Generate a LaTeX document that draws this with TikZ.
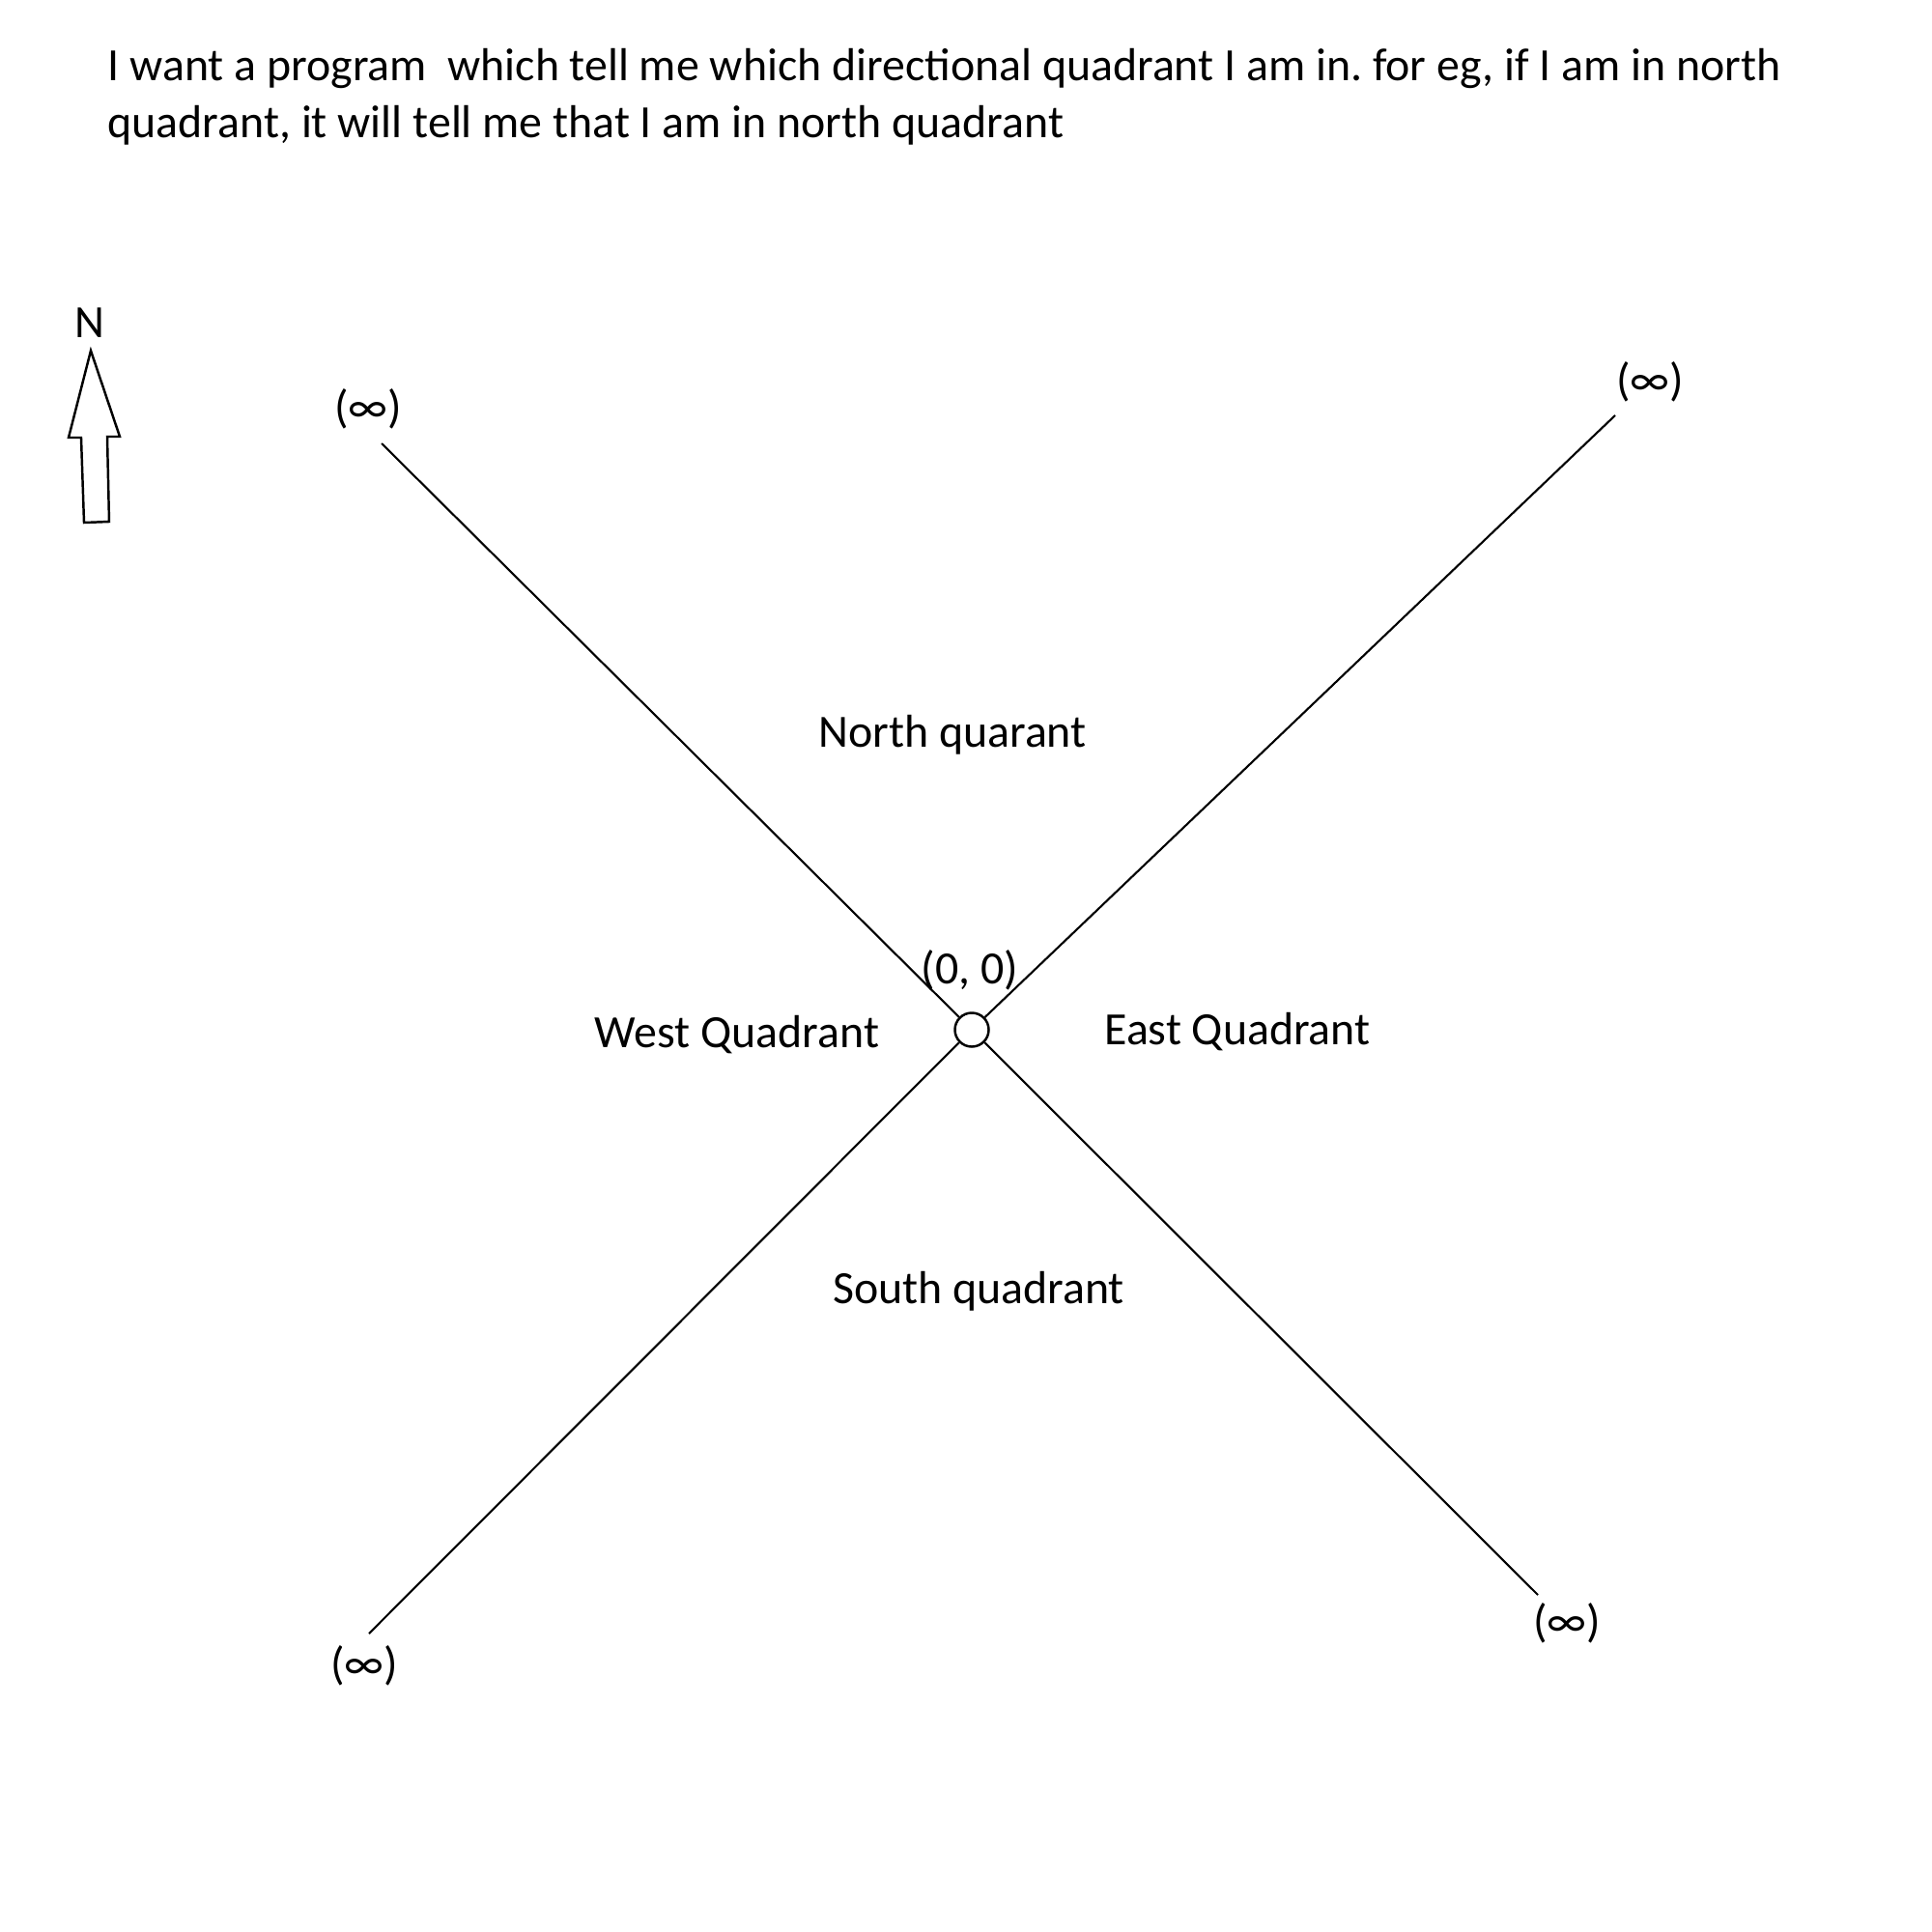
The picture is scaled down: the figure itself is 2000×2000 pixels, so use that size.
\documentclass[tikz,border=0pt]{standalone}
\usepackage{fontspec}
\setmainfont{Carlito}
\usetikzlibrary{positioning}
\frenchspacing

\begin{document}
\begin{tikzpicture}[
  x=0.01cm, y=-0.01cm,
  font=\fontsize{13.6}{17}\selectfont,
  lbl/.style={inner sep=0pt},
  infl/.style={lbl},
  origin/.style={draw, circle, minimum size=0.35cm, inner sep=0pt, line width=0.7pt},
  ray/.style={line width=0.6pt}
]
\useasboundingbox (0,0) rectangle (2000,2000);

\node[lbl, anchor=base west, align=left] (title) at (111,143) {
  I want a program\ \ which tell me which directional quadrant I am in. for eg, if I am in north\\
  quadrant, it will tell me that I am in north quadrant
};

% compass
\node[lbl] (north) at (93,334) {N};
\draw[line width=0.7pt, fill=white]
  (94,363) -- (124,452) -- (111,452) -- (113,540) -- (87,541)
  -- (84,453) -- (71,453) -- cycle;

% origin and rays
\node[origin] (o) at (1006,1066) {};
\node[lbl] (zero) at (1004,1004) {(0, 0)};

\coordinate (nw) at (395,459);
\coordinate (ne) at (1672,430);
\coordinate (sw) at (382,1691);
\coordinate (se) at (1592,1651);

\draw[ray] (o) -- (nw);
\draw[ray] (o) -- (ne);
\draw[ray] (o) -- (sw);
\draw[ray] (o) -- (se);

\node[infl] (infnw) at (381,423) {(∞)};
\node[infl] (infne) at (1708,395) {(∞)};
\node[infl] (infsw) at (377,1724) {(∞)};
\node[infl] (infse) at (1622,1680) {(∞)};

% quadrant names
\node[lbl] (nq) at (986,761) {North quarant};
\node[lbl] (wq) at (763,1071) {West Quadrant};
\node[lbl] (eq) at (1281,1068) {East Quadrant};
\node[lbl] (sq) at (1013,1337) {South quadrant};

\end{tikzpicture}
\end{document}
